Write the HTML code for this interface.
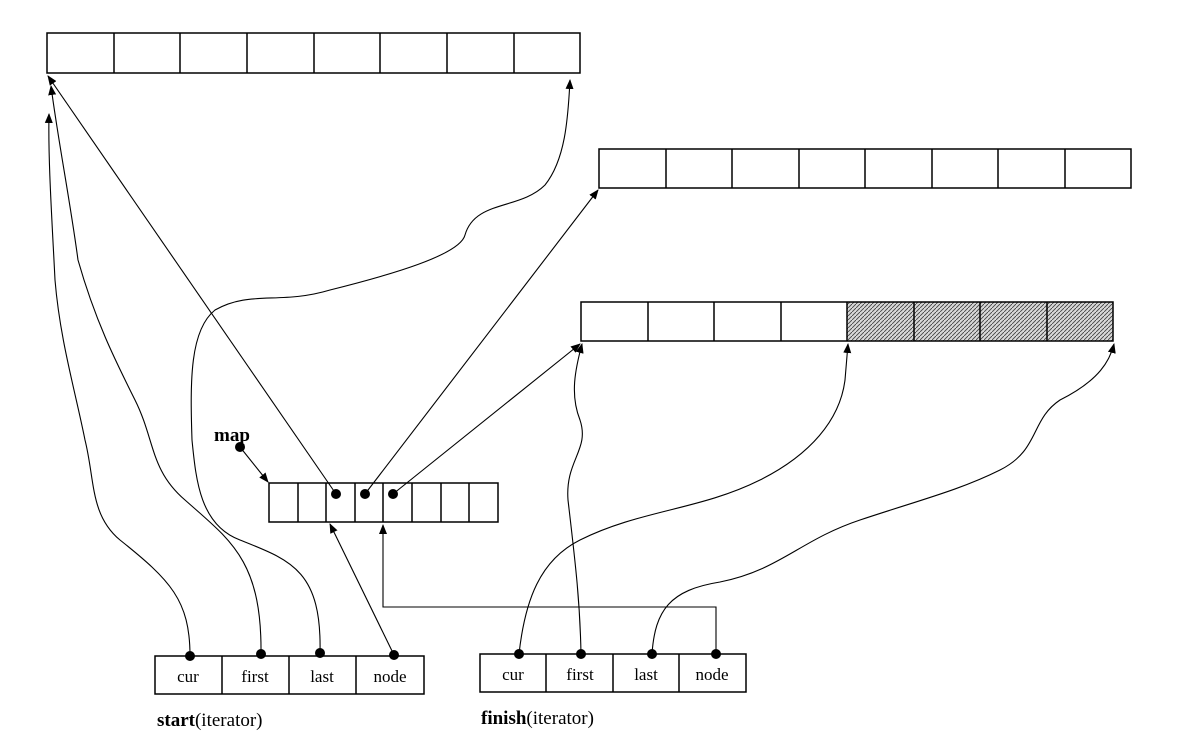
<!DOCTYPE html>
<html><head><meta charset="utf-8"><style>
html,body{margin:0;padding:0;background:#fff;}
svg{display:block;}
text{font-family:"Liberation Serif",serif;}
</style></head><body>
<svg width="1182" height="742" viewBox="0 0 1182 742" xmlns="http://www.w3.org/2000/svg">
<defs>
<pattern id="hatch" width="4" height="4" patternUnits="userSpaceOnUse">
<rect width="4" height="4" fill="#d8d8d8"/>
<path d="M0,4 L4,0" stroke="#444" stroke-width="0.9"/>
</pattern>
<marker id="ah" markerWidth="10" markerHeight="10" refX="9" refY="5" orient="auto" markerUnits="userSpaceOnUse">
<path d="M0,1 L10,5 L0,9 z" fill="#000"/>
</marker>
</defs>
<g fill="none" stroke="#000" stroke-width="1.5">
<!-- buffer 1 -->
<rect x="47" y="33" width="533" height="40"/>
<path d="M114,33V73M180,33V73M247,33V73M314,33V73M380,33V73M447,33V73M514,33V73"/>
<!-- buffer 2 -->
<rect x="599" y="149" width="532" height="39"/>
<path d="M666,149V188M732,149V188M799,149V188M865,149V188M932,149V188M998,149V188M1065,149V188"/>
<!-- buffer 3 -->
<rect x="847" y="302" width="266" height="39" fill="url(#hatch)" stroke="none"/>
<rect x="581" y="302" width="532" height="39"/>
<path d="M648,302V341M714,302V341M781,302V341M847,302V341M914,302V341M980,302V341M1047,302V341"/>
<!-- map -->
<rect x="269" y="483" width="229" height="39"/>
<path d="M298,483V522M326,483V522M355,483V522M383,483V522M412,483V522M441,483V522M469,483V522"/>
<!-- start -->
<rect x="155" y="656" width="269" height="38"/>
<path d="M222,656V694M289,656V694M356,656V694"/>
<!-- finish -->
<rect x="480" y="654" width="266" height="38"/>
<path d="M546,654V692M613,654V692M679,654V692"/>
</g>
<g fill="none" stroke="#000" stroke-width="1.1">
<!-- map pointer -->
<path d="M240,447 L268,482" marker-end="url(#ah)"/>
<!-- map dots to buffers -->
<path d="M336,494 L48,76" marker-end="url(#ah)"/>
<path d="M365,494 L598,190" marker-end="url(#ah)"/>
<path d="M393,494 L580,344" marker-end="url(#ah)"/>
<!-- start.cur -->
<path d="M190,656 C190,600 170,580 120,540 C90,515 95,480 85,440 C75,390 60,340 55,280 C52,220 48,160 49,114" marker-end="url(#ah)"/>
<!-- start.first -->
<path d="M261,654 C262,560 230,540 185,500 C150,470 155,440 135,400 C115,360 95,320 78,260 C70,200 58,140 51,86" marker-end="url(#ah)"/>
<!-- start.last -->
<path d="M320,653 C322,570 290,560 240,540 C200,525 196,480 192,440 C190,380 190,330 215,310 C250,290 280,305 330,290 C390,275 460,255 465,235 C475,200 520,210 545,185 C565,160 568,120 570,80" marker-end="url(#ah)"/>
<!-- start.node -->
<path d="M394,655 L330,524" marker-end="url(#ah)"/>
<!-- finish.node -->
<path d="M716,654 V607 H383 V525" marker-end="url(#ah)"/>
<!-- finish.cur -->
<path d="M519,654 C525,600 540,560 580,540 C640,510 700,510 760,480 C810,455 840,420 845,380 L848,344" marker-end="url(#ah)"/>
<!-- finish.first -->
<path d="M581,654 C580,600 575,560 568,500 C565,460 590,450 580,420 C570,395 575,370 582,344" marker-end="url(#ah)"/>
<!-- finish.last -->
<path d="M652,654 C655,610 670,590 720,582 C780,570 800,540 860,520 C920,500 960,490 1000,470 C1040,450 1030,420 1060,400 C1100,380 1110,360 1114,344" marker-end="url(#ah)"/>
</g>
<g fill="#000">
<circle cx="240" cy="447" r="5"/>
<circle cx="336" cy="494" r="5"/>
<circle cx="365" cy="494" r="5"/>
<circle cx="393" cy="494" r="5"/>
<circle cx="190" cy="656" r="5"/>
<circle cx="261" cy="654" r="5"/>
<circle cx="320" cy="653" r="5"/>
<circle cx="394" cy="655" r="5"/>
<circle cx="519" cy="654" r="5"/>
<circle cx="581" cy="654" r="5"/>
<circle cx="652" cy="654" r="5"/>
<circle cx="716" cy="654" r="5"/>
</g>
<g font-size="17" text-anchor="middle">
<text x="188" y="682">cur</text>
<text x="255" y="682">first</text>
<text x="322" y="682">last</text>
<text x="390" y="682">node</text>
<text x="513" y="680">cur</text>
<text x="580" y="680">first</text>
<text x="646" y="680">last</text>
<text x="712" y="680">node</text>
</g>
<text x="214" y="441" font-size="19" font-weight="bold">map</text>
<text x="157" y="726" font-size="19"><tspan font-weight="bold">start</tspan>(iterator)</text>
<text x="481" y="724" font-size="19"><tspan font-weight="bold">finish</tspan>(iterator)</text>
</svg>
</body></html>
